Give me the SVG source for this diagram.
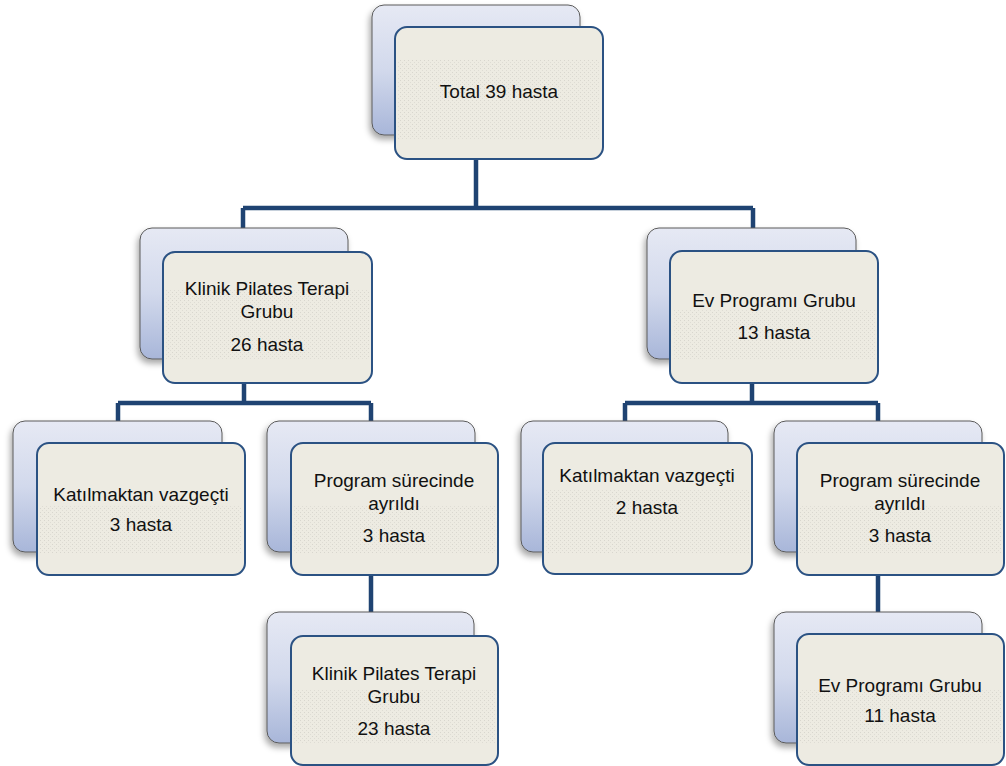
<svg xmlns="http://www.w3.org/2000/svg" width="1006" height="766" viewBox="0 0 1006 766">
<style>
.back{fill:url(#bg);stroke:#5a5a5a;stroke-width:1;filter:url(#sh)}
.front{fill:#EDEBE2;stroke:#2B5283;stroke-width:2}
.tex{fill:url(#dots);stroke:none}
.conn{fill:none;stroke:#1F4372;stroke-width:4.5;stroke-linejoin:miter;stroke-linecap:butt}
text{font-family:"Liberation Sans",Arial,sans-serif;font-size:19px;fill:#111;text-anchor:middle}
</style>
<defs>
<linearGradient id="bg" x1="0" y1="0" x2="0" y2="1">
<stop offset="0" stop-color="#E6E9F4"/>
<stop offset="0.5" stop-color="#D2D9EC"/>
<stop offset="1" stop-color="#A8B6D9"/>
</linearGradient>
<pattern id="dots" width="4" height="4" patternUnits="userSpaceOnUse">
<rect x="0" y="0" width="1" height="1" fill="#D8D6CE"/>
<rect x="2" y="2" width="1" height="1" fill="#DEDCD4"/>
</pattern>
<filter id="sh" x="-10%" y="-10%" width="125%" height="130%">
<feDropShadow dx="-2" dy="4" stdDeviation="3" flood-color="#000" flood-opacity="0.35"/>
</filter>
</defs>
<g id="connectors">
<path class="conn" d="M476 159 V208 M243 208 H753 M243 208 V252 M753 208 V252"/>
<path class="conn" d="M244 383 V403 M118 403 H371 M118 403 V421 M371 403 V421 M371 575 V612"/>
<path class="conn" d="M752 383 V403 M625 403 H878 M625 403 V421 M878 403 V421 M878 575 V612"/>
</g>
<g id="n-total">
<rect class="back" x="372" y="5" width="208" height="130" rx="12"/>
<rect class="front" x="395" y="27" width="208" height="132" rx="12"/>
<rect class="tex" x="398" y="60" width="202" height="80"/>
<text x="499" y="98">Total 39 hasta</text>
</g>
<g id="n-klinik">
<rect class="back" x="140" y="228" width="208" height="131" rx="12"/>
<rect class="front" x="163" y="252" width="209" height="131" rx="12"/>
<rect class="tex" x="166" y="290" width="203" height="70"/>
<text x="267" y="295">Klinik Pilates Terapi</text>
<text x="267" y="318">Grubu</text>
<text x="267" y="351">26 hasta</text>
</g>
<g id="n-ev">
<rect class="back" x="647" y="228" width="209" height="131" rx="12"/>
<rect class="front" x="670" y="251" width="208" height="132" rx="12"/>
<rect class="tex" x="673" y="310" width="202" height="50"/>
<text x="774" y="307">Ev Programı Grubu</text>
<text x="774" y="339">13 hasta</text>
</g>
<g id="n-kat1">
<rect class="back" x="13" y="421" width="209" height="131" rx="12"/>
<rect class="front" x="37" y="443" width="208" height="132" rx="12"/>
<rect class="tex" x="40" y="505" width="202" height="48"/>
<text x="141" y="501">Katılmaktan vazgeçti</text>
<text x="141" y="531">3 hasta</text>
</g>
<g id="n-prog1">
<rect class="back" x="267" y="421" width="208" height="131" rx="12"/>
<rect class="front" x="291" y="443" width="207" height="132" rx="12"/>
<rect class="tex" x="294" y="505" width="201" height="48"/>
<text x="394" y="487">Program sürecinde</text>
<text x="394" y="510">ayrıldı</text>
<text x="394" y="542">3 hasta</text>
</g>
<g id="n-kat2">
<rect class="back" x="521" y="421" width="207" height="131" rx="12"/>
<rect class="front" x="543" y="443" width="209" height="131" rx="12"/>
<rect class="tex" x="546" y="490" width="203" height="63"/>
<text x="647" y="482">Katılmaktan vazgeçti</text>
<text x="647" y="514">2 hasta</text>
</g>
<g id="n-prog2">
<rect class="back" x="774" y="421" width="208" height="131" rx="12"/>
<rect class="front" x="797" y="443" width="207" height="132" rx="12"/>
<rect class="tex" x="800" y="505" width="201" height="48"/>
<text x="900" y="487">Program sürecinde</text>
<text x="900" y="510">ayrıldı</text>
<text x="900" y="542">3 hasta</text>
</g>
<g id="n-klinik23">
<rect class="back" x="267" y="612" width="207" height="131" rx="12"/>
<rect class="front" x="291" y="636" width="207" height="129" rx="12"/>
<rect class="tex" x="294" y="690" width="201" height="54"/>
<text x="394" y="680">Klinik Pilates Terapi</text>
<text x="394" y="703">Grubu</text>
<text x="394" y="735">23 hasta</text>
</g>
<g id="n-ev11">
<rect class="back" x="774" y="612" width="208" height="131" rx="12"/>
<rect class="front" x="797" y="634" width="207" height="131" rx="12"/>
<rect class="tex" x="800" y="690" width="201" height="54"/>
<text x="900" y="692">Ev Programı Grubu</text>
<text x="900" y="722">11 hasta</text>
</g>
</svg>
